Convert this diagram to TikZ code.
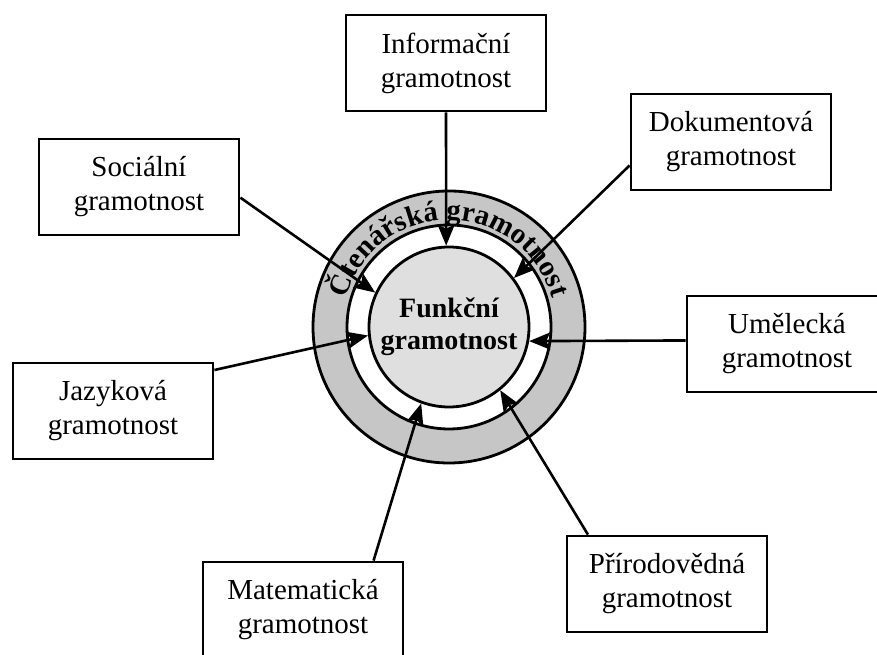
\documentclass[tikz,border=0pt]{standalone}
\usepackage{fontspec}
\setmainfont{Liberation Serif}
\usetikzlibrary{arrows.meta, positioning, decorations.text}

\tikzset{
  gbox/.style={draw, line width=2.8pt, fill=white, minimum width=200pt, minimum height=96pt,
    align=center, font=\fontsize{29}{34}\selectfont},
  ringline/.style={circle, draw, line width=2.8pt},
  arr/.style={line width=2.6pt, -{Stealth[length=21pt, width=17pt, inset=4pt]}}
}

\begin{document}
\begin{tikzpicture}[x=1pt, y=1pt]
  \useasboundingbox (0,0) rectangle (877,655);

  % kruhy
  \node[ringline, fill=gray!45, minimum size=272pt] (ring) at (449,328) {};
  \node[ringline, fill=white, minimum size=204pt] (gap) at (449,328) {};
  \node[ringline, fill=gray!25, minimum size=160pt, align=center,
    font=\bfseries\fontsize{28}{32}\selectfont] (fg) at (449,328) {Funkční\\gramotnost};

  \path[decorate, decoration={text along path, text align=center,
      text={|\bfseries\fontsize{29}{29}\selectfont|Čtenářská gramotnost}}]
    (449,328) ++(170:107) arc[start angle=170, end angle=10, radius=107];

  % boxy
  \node[gbox] (inf) at (446,592) {Informační\\gramotnost};
  \node[gbox] (dok) at (731,513) {Dokumentová\\gramotnost};
  \node[gbox] (soc) at (139,468) {Sociální\\gramotnost};
  \node[gbox] (uml) at (787,311) {Umělecká\\gramotnost};
  \node[gbox] (jaz) at (113,244) {Jazyková\\gramotnost};
  \node[gbox] (mat) at (303,45) {Matematická\\gramotnost};
  \node[gbox] (pri) at (667,71) {Přírodovědná\\gramotnost};

  % sipky
  \draw[arr] (inf.south) -- (fg.92);
  \draw[arr] (dok.193) -- (fg.37);
  \draw[arr] (soc.-6) -- (fg.155);
  \draw[arr] (uml.178) -- (fg.-10);
  \draw[arr] (jaz.22) -- (fg.186);
  \draw[arr] (mat.35) -- (fg.250);
  \draw[arr] (pri.148) -- (fg.-51);
\end{tikzpicture}
\end{document}
